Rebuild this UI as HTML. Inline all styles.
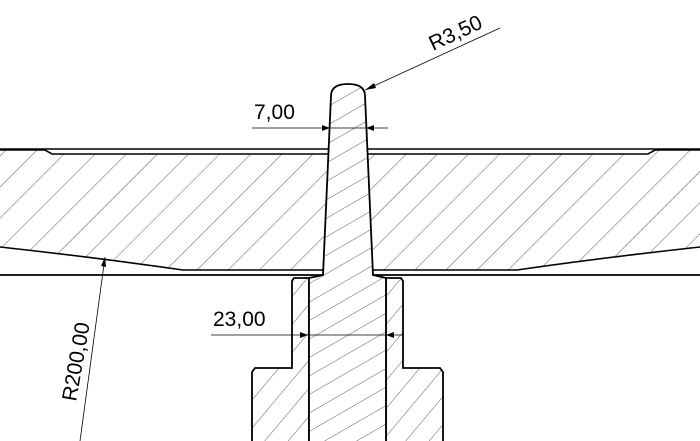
<!DOCTYPE html>
<html><head><style>body{margin:0;background:#fff}svg{display:block}</style></head><body>
<svg width="700" height="441" viewBox="0 0 700 441" xmlns="http://www.w3.org/2000/svg" font-family="Liberation Sans, sans-serif">
<defs>
<pattern id="h1" patternUnits="userSpaceOnUse" width="22" height="22" patternTransform="rotate(45)">
<line x1="0" y1="0" x2="0" y2="22" stroke="#333" stroke-width="0.8"/></pattern>
<pattern id="h2" patternUnits="userSpaceOnUse" width="16" height="16" patternTransform="rotate(60)">
<line x1="0" y1="0" x2="0" y2="16" stroke="#333" stroke-width="0.8"/></pattern>
<pattern id="h3" patternUnits="userSpaceOnUse" width="18" height="18" patternTransform="rotate(40)">
<line x1="0" y1="0" x2="0" y2="18" stroke="#333" stroke-width="0.8"/></pattern>
</defs>
<g stroke="#000" fill="none">
<!-- plate -->
<path d="M-5,150 L45,150 L52,154 L648,154 L655,150 L705,150 L705,247 L700,247 Q600,258 517,270 L372,270 L368,275 L330,275 L326,270 L183,270 Q100,258 0,247 L-5,247 Z" fill="url(#h1)" stroke-width="1.6"/>
<line x1="0" y1="149" x2="700" y2="149" stroke-width="1.4"/>
<line x1="0" y1="275" x2="700" y2="275" stroke-width="1.8"/>
<!-- bushing -->
<path d="M309,278 L294,278 L292,281 L292,368 L255,368 L252,372 L252,446 L309,446 Z" fill="url(#h3)" stroke-width="1.8"/>
<path d="M386,278 L401,278 L403,281 L403,368 L440,368 L443,372 L443,446 L386,446 Z" fill="url(#h3)" stroke-width="1.8"/>
<!-- pin -->
<path d="M323,275 L331,96 Q331,84 348,84 Q365,84 365,96 L373,275 L386,278 L386,446 L309,446 L309,278 Z" fill="#fff" stroke="none"/>
<path d="M323,275 L331,96 Q331,84 348,84 Q365,84 365,96 L373,275 L386,278 L386,446 L309,446 L309,278 Z" fill="url(#h2)" stroke-width="1.8"/>
<!-- dims -->
<line x1="252" y1="128" x2="388" y2="128" stroke-width="0.8"/>
<line x1="211" y1="335" x2="403" y2="335" stroke-width="0.8"/>
<line x1="365" y1="90" x2="500" y2="28" stroke-width="0.8"/>
<line x1="105" y1="257" x2="80" y2="441" stroke-width="0.8"/>
</g>
<g fill="#000">
<path d="M330,128 l-8,-3 v6z M366,128 l8,-3 v6z M308,335 l-8,-3 v6z M386,335 l8,-3 v6z"/>
<path d="M365,90 l9,-7 l2,5z M105,257 l-4,9 l5,1z"/>
</g>
<g font-size="21" fill="#000">
<text x="254" y="119">7,00</text>
<text x="213" y="326">23,00</text>
<text transform="translate(433,51) rotate(-25)">R3,50</text>
<text transform="translate(76,402) rotate(-80)">R200,00</text>
</g>
</svg>
</body></html>
